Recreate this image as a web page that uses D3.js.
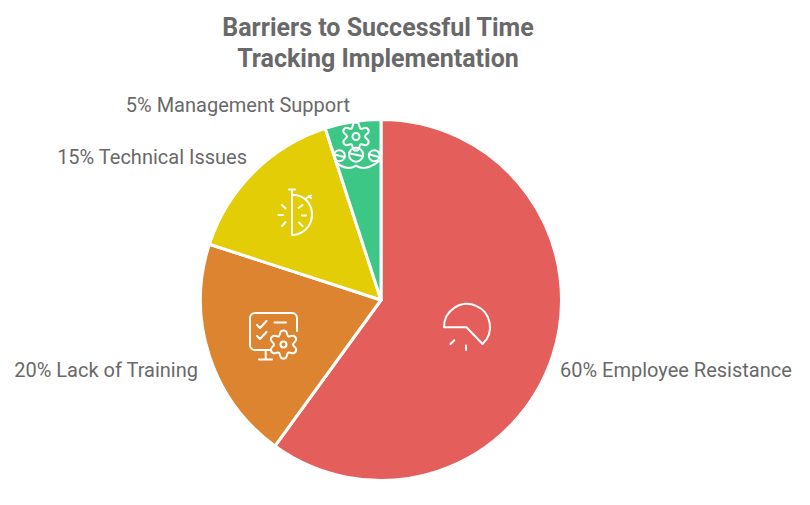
<!DOCTYPE html>
<html><head><meta charset="utf-8">
<script src="https://cdn.jsdelivr.net/npm/d3@7"></script>
<style>html,body{margin:0;background:#fff}svg{display:block}text{font-family:Roboto,sans-serif;fill:#696969}</style>
</head><body><svg id="c" width="810" height="505"></svg>
<script>
const titleLines = ["Barriers to Successful Time", "Tracking Implementation"];
const categories = ["Employee Resistance", "Lack of Training", "Technical Issues", "Management Support"];
const shares = [60, 20, 15, 5];
const colors = ["#e45f5b", "#dd8431", "#e3cd07", "#3dc786"];

const width = 810, height = 505, cx = 381, cy = 300, radius = 180.5;
const labelLayout = [
  {x: 560, y: 377, anchor: "start"},
  {x: 198, y: 377, anchor: "end"},
  {x: 247, y: 164, anchor: "end"},
  {x: 350, y: 112, anchor: "end"}
];
const svg = d3.select("#c");

svg.selectAll("text.title").data(titleLines).join("text").attr("class", "title")
  .attr("x", 378).attr("y", (d, i) => 36 + i * 31)
  .attr("text-anchor", "middle").attr("font-size", 25).attr("font-weight", 700)
  .text(d => d);

const pie = d3.pie().sort(null).value(d => d)(shares);
const arc = d3.arc().innerRadius(0).outerRadius(radius);
svg.append("g").attr("transform", `translate(${cx},${cy})`)
  .selectAll("path").data(pie).join("path")
  .attr("d", arc).attr("fill", (d, i) => colors[i])
  .attr("stroke", "#fff").attr("stroke-width", 3).attr("stroke-linejoin", "round");

svg.selectAll("text.label").data(categories).join("text").attr("class", "label")
  .attr("x", (d, i) => labelLayout[i].x).attr("y", (d, i) => labelLayout[i].y)
  .attr("text-anchor", (d, i) => labelLayout[i].anchor)
  .attr("font-size", 20)
  .text((d, i) => `${shares[i]}% ${d}`);

/* decorative line icons */
const icons = svg.append("g").attr("fill", "none").attr("stroke", "#fff")
  .attr("stroke-width", 2).attr("stroke-linecap", "round").attr("stroke-linejoin", "round");
const gear = (r1, r2) => {
  const step = Math.PI / 3, pts = [];
  d3.range(6).forEach(i => {
    pts.push([i * step - 0.17, r1], [i * step + 0.17, r1], [i * step + step / 2, r2]);
  });
  return d3.lineRadial().curve(d3.curveCatmullRomClosed.alpha(0.5))(pts);
};
const addGear = (x, y, r1, r2, hole) => {
  const g = icons.append("g").attr("transform", `translate(${x},${y})`);
  g.append("path").attr("d", gear(r1, r2));
  g.append("circle").attr("r", hole);
};
// red
icons.append("path").attr("d", "M444,327.3 A23,23 0 1 1 482.5,344 L466.5,327.3 Z");
icons.append("path").attr("d", "M450.5,344 L454.3,340.2 M466,345.5 L466,350");
// orange
icons.append("path").attr("d", "M297,331 V318 A5,5 0 0 0 292,313 H255 A5,5 0 0 0 250,318 V345 A5,5 0 0 0 255,350 H270 M265.7,350 V359 M259,359.5 H272");
icons.append("path").attr("d", "M257,325 L260,328 L266.5,321 M257,336 L260,339 L266.5,332 M274.5,322.5 H286");
addGear(283.5, 344.5, 13.5, 9.5, 3);
// yellow
icons.append("path").attr("d", "M292,190 V235 A20.5,20.5 0 0 0 305,199 Q299,194.5 292,194.7 M289,189.5 H295 M305,199 L311,195.5 M309,196 L311,198");
icons.append("path").attr("d", "M298.5,208 L302.5,205 M302,215.5 L306,215.5 M299,222.5 L302.5,226 M282,205 L285.5,208.5 M278.5,215 L283,215 M282,226 L285.5,222");
// green
addGear(356, 136.5, 13.5, 9, 3.5);
[[339.3, 155.7, 5.5], [356, 154.7, 7], [374.3, 155.7, 5.5]].forEach(([x, y, r]) => {
  icons.append("circle").attr("cx", x).attr("cy", y).attr("r", r);
  icons.append("path").attr("d", `M${x - r},${y - 1.5} L${x + r},${y + 1.5}`);
});
icons.append("path").attr("d", "M335,161 Q340,167 348,168 Q353,168 356,165.5 Q359,168 364,168 Q372,167 379,161");
</script></body></html>
